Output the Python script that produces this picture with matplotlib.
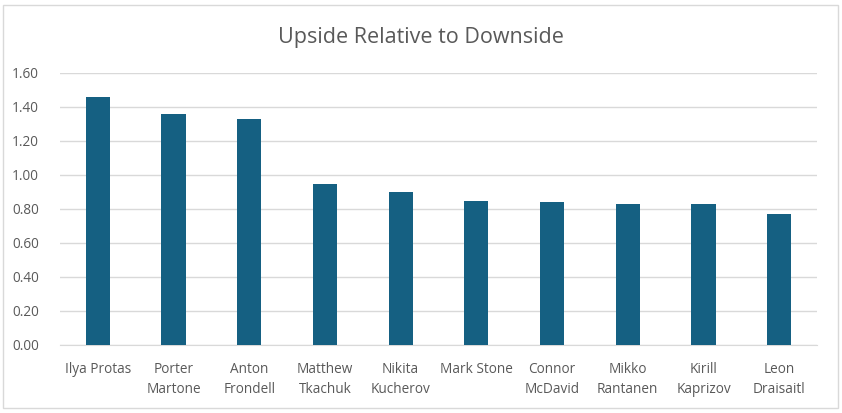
import matplotlib
matplotlib.use("Agg")
import matplotlib.pyplot as plt
import numpy as np
from matplotlib.patches import Rectangle

players = [
    "Ilya Protas", "Porter\nMartone", "Anton\nFrondell", "Matthew\nTkachuk",
    "Nikita\nKucherov", "Mark Stone", "Connor\nMcDavid", "Mikko\nRantanen",
    "Kirill\nKaprizov", "Leon\nDraisaitl",
]
ratio = [1.46, 1.36, 1.33, 0.95, 0.90, 0.85, 0.84, 0.83, 0.83, 0.77]
yticks = [0.0, 0.2, 0.4, 0.6, 0.8, 1.0, 1.2, 1.4, 1.6]

text_color = "#595959"
plt.rcParams["font.family"] = ["Open Sans", "DejaVu Sans"]

fig = plt.figure(figsize=(8.42, 4.13), dpi=100)
ax = fig.add_axes([60 / 842, 68 / 413, 757 / 842, 272 / 413])

x = np.arange(len(players))
ax.bar(x, ratio, width=0.32, color="#156082", zorder=3)

ax.set_xlim(-0.5, len(players) - 0.5)
ax.set_ylim(0, 1.6)
ax.set_yticks(yticks)
ax.set_yticklabels([f"{v:.2f}" for v in yticks])
ax.set_xticks(x)
ax.set_xticklabels(players, linespacing=1.45)
ax.tick_params(axis="both", length=0, labelsize=9.8, colors=text_color)
ax.tick_params(axis="x", pad=12)
ax.tick_params(axis="y", pad=15)

ax.yaxis.grid(True, color="#D9D9D9", linewidth=1, zorder=0)
for side in ["top", "right", "left"]:
    ax.spines[side].set_visible(False)
ax.spines["bottom"].set_color("#D9D9D9")

fig.text(0.5, 1 - 37 / 413, "Upside Relative to Downside", ha="center",
         va="center", fontsize=15.5, color=text_color)

fig.patches.append(Rectangle((3 / 842, 5 / 413), 835 / 842, 403 / 413,
                             transform=fig.transFigure, fill=False,
                             edgecolor="#D9D9D9", linewidth=1))

fig.savefig("out.png", dpi=100)
